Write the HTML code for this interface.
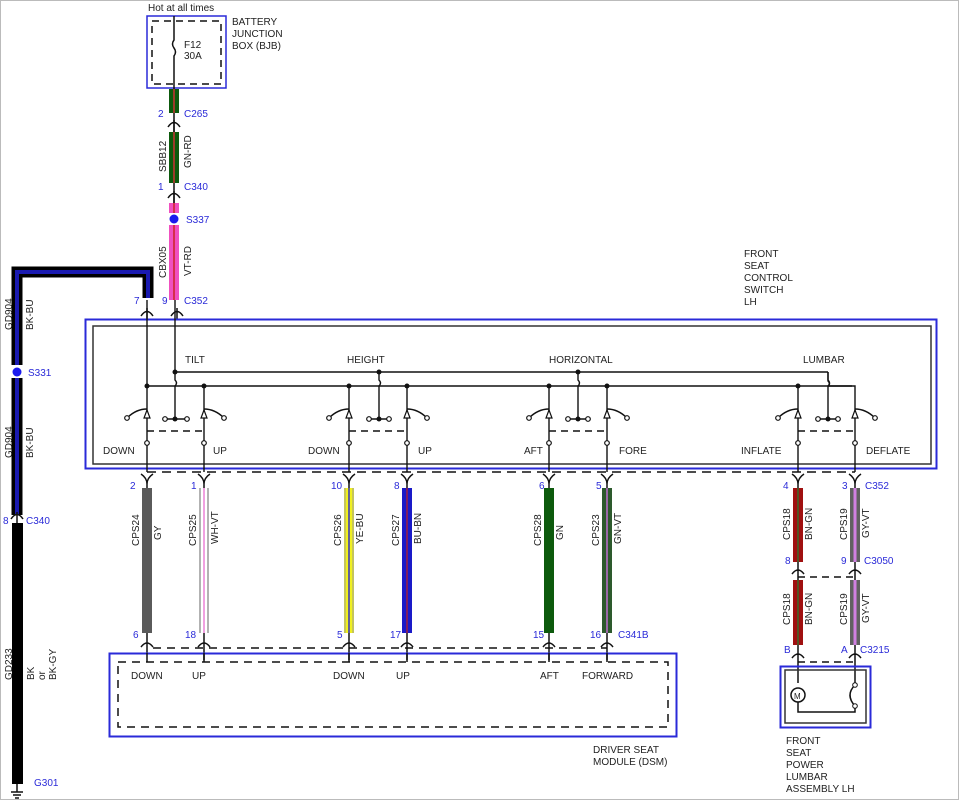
<!DOCTYPE html>
<html><head><meta charset="utf-8"><style>
html,body{margin:0;padding:0;background:#fff}
svg{display:block}
text{font-family:"Liberation Sans",sans-serif;font-size:10px;fill:#222}
.b{fill:#2a2ad8}
</style></head><body>
<svg width="960" height="801" viewBox="0 0 960 801" xmlns="http://www.w3.org/2000/svg">
<rect x="0.5" y="0.5" width="958" height="799" fill="none" stroke="#bbb"/>
<g fill="none" stroke="#111" stroke-width="1.5">
<rect x="147" y="16" width="79" height="72" stroke="#2a2ad8" stroke-width="1.5"/>
<rect x="152" y="21" width="69" height="63" stroke-dasharray="7,5"/>
<path d="M174 16 V40 q-3 4 0 8 q3 4 0 8 V89"/>
</g>
<text x="148" y="11">Hot at all times</text>
<text x="184" y="48">F12</text><text x="184" y="59">30A</text>
<text x="232" y="25">BATTERY</text><text x="232" y="37">JUNCTION</text><text x="232" y="49">BOX (BJB)</text>
<rect x="169" y="89" width="10" height="24" fill="#0d5a0d"/><line x1="174" y1="89" x2="174" y2="113" stroke="#c33" stroke-width="1.5"/>
<rect x="169" y="132" width="10" height="51" fill="#0d5a0d"/><line x1="174" y1="132" x2="174" y2="183" stroke="#c33" stroke-width="1.5"/>
<rect x="169" y="203" width="10" height="97" fill="#f050c0"/><line x1="174" y1="203" x2="174" y2="300" stroke="#c22" stroke-width="1.5"/>
<rect x="168" y="213" width="12" height="12" fill="#fff"/><circle cx="174" cy="219" r="4.5" fill="#1a1aee"/>
<g fill="none" stroke="#111" stroke-width="1.5">
<path d="M174 113 V132 M174 183 V203"/>
<path d="M168 127 Q174 118 180 127 M174 120 V132"/>
<path d="M168 198 Q174 189 180 198 M174 191 V203"/>
</g>
<text class="b" x="158" y="117">2</text><text class="b" x="184" y="117">C265</text>
<text class="b" x="158" y="190">1</text><text class="b" x="184" y="190">C340</text>
<text class="b" x="186" y="223">S337</text>
<text class="b" x="162" y="304">9</text><text class="b" x="184" y="304">C352</text>
<text class="b" x="134" y="304">7</text>
<text transform="translate(166,172) rotate(-90)">SBB12</text>
<text transform="translate(191,168) rotate(-90)">GN-RD</text>
<text transform="translate(166,278) rotate(-90)">CBX05</text>
<text transform="translate(191,276) rotate(-90)">VT-RD</text>
<path d="M148 298 V272 H17 V515" fill="none" stroke="#000" stroke-width="11"/>
<path d="M148 298 V272 H17 V515" fill="none" stroke="#1a1ab0" stroke-width="4"/>
<rect x="11" y="365" width="13" height="13" fill="#fff"/><circle cx="17" cy="372" r="4.5" fill="#1a1aee"/>
<text class="b" x="28" y="376">S331</text>
<text transform="translate(12,330) rotate(-90)">GD904</text>
<text transform="translate(33,330) rotate(-90)">BK-BU</text>
<text transform="translate(12,458) rotate(-90)">GD904</text>
<text transform="translate(33,458) rotate(-90)">BK-BU</text>
<text class="b" x="3" y="524">8</text><text class="b" x="26" y="524">C340</text>
<rect x="12" y="523" width="11" height="261" fill="#000"/>
<text transform="translate(12,680) rotate(-90)">GD233</text>
<text transform="translate(34,680) rotate(-90)">BK</text>
<text transform="translate(45,680) rotate(-90)">or</text>
<text transform="translate(56,680) rotate(-90)">BK-GY</text>
<text class="b" x="34" y="786">G301</text>
<g fill="none" stroke="#111" stroke-width="1.5">
<path d="M11 519 Q17 510 23 519 M17 512 V523"/>
<path d="M17 784 V792 M11 792 H23 M13 795 H21 M15 798 H19"/>
<path d="M141 316 Q147 307 153 316 M147 308 V320 M171 316 Q177 307 183 316 M177 308 V320"/>
</g>
<rect x="85.5" y="319.5" width="851" height="149" fill="none" stroke="#2a2ad8" stroke-width="2"/>
<rect x="93" y="326" width="838" height="138" fill="none" stroke="#333" stroke-width="1.5"/>
<text x="744" y="257">FRONT</text><text x="744" y="269">SEAT</text><text x="744" y="281">CONTROL</text><text x="744" y="293">SWITCH</text><text x="744" y="305">LH</text>
<text x="185" y="363">TILT</text><text x="347" y="363">HEIGHT</text><text x="549" y="363">HORIZONTAL</text><text x="803" y="363">LUMBAR</text>
<g fill="none" stroke="#111" stroke-width="1.4">
<path d="M147 300 V472 M175 300 V372 H828 M828 386 H855 V472"/>
<path d="M147 386 H852 M828 372 V381 q3 3 0 5"/>
<path d="M175 372 V380 q3 3 0 6 V419 M379 372 V380 q3 3 0 6 V419 M578 372 V380 q3 3 0 6 V419 M828 372 V380 q3 3 0 6 V419"/>
<path d="M165 419 H187 M369 419 H389 M568 419 H588 M818 419 H838"/>
<path d="M349 386 V472 M407 386 V472 M549 386 V472 M607 386 V472 M798 386 V472 M204 386 V472"/>
<path d="M127 418 Q136 409 147 409 M224 418 Q215 409 204 409 M329 418 Q338 409 349 409 M427 418 Q418 409 407 409 M529 418 Q538 409 549 409 M627 418 Q618 409 607 409 M778 418 Q787 409 798 409 M875 418 Q866 409 855 409"/>
<path d="M147 431 H204 M349 431 H407 M549 431 H607 M798 431 H855" stroke-dasharray="7,5"/>
<path d="M147 472 H855" stroke-dasharray="9,6"/>
</g>
<g fill="#111">
<circle cx="175" cy="372" r="2.5"/><circle cx="379" cy="372" r="2.5"/><circle cx="578" cy="372" r="2.5"/>
<circle cx="147" cy="386" r="2.5"/><circle cx="204" cy="386" r="2.5"/><circle cx="349" cy="386" r="2.5"/><circle cx="407" cy="386" r="2.5"/><circle cx="549" cy="386" r="2.5"/><circle cx="607" cy="386" r="2.5"/><circle cx="798" cy="386" r="2.5"/>
<circle cx="175" cy="419" r="2.5"/><circle cx="379" cy="419" r="2.5"/><circle cx="578" cy="419" r="2.5"/><circle cx="828" cy="419" r="2.5"/>
</g>
<g fill="#fff" stroke="#111" stroke-width="1.2">
<circle cx="165" cy="419" r="2.3"/><circle cx="187" cy="419" r="2.3"/><circle cx="369" cy="419" r="2.3"/><circle cx="389" cy="419" r="2.3"/><circle cx="568" cy="419" r="2.3"/><circle cx="588" cy="419" r="2.3"/><circle cx="818" cy="419" r="2.3"/><circle cx="838" cy="419" r="2.3"/>
<circle cx="127" cy="418" r="2.3"/><circle cx="224" cy="418" r="2.3"/><circle cx="329" cy="418" r="2.3"/><circle cx="427" cy="418" r="2.3"/><circle cx="529" cy="418" r="2.3"/><circle cx="627" cy="418" r="2.3"/><circle cx="778" cy="418" r="2.3"/><circle cx="875" cy="418" r="2.3"/>
<circle cx="147" cy="443" r="2.3"/><circle cx="204" cy="443" r="2.3"/><circle cx="349" cy="443" r="2.3"/><circle cx="407" cy="443" r="2.3"/><circle cx="549" cy="443" r="2.3"/><circle cx="607" cy="443" r="2.3"/><circle cx="798" cy="443" r="2.3"/><circle cx="855" cy="443" r="2.3"/>
<path d="M144 418 L150 418 L147 410 Z M201 418 L207 418 L204 410 Z M346 418 L352 418 L349 410 Z M404 418 L410 418 L407 410 Z M546 418 L552 418 L549 410 Z M604 418 L610 418 L607 410 Z M795 418 L801 418 L798 410 Z M852 418 L858 418 L855 410 Z" fill="#fff"/>
</g>
<text x="103" y="454">DOWN</text><text x="213" y="454">UP</text><text x="308" y="454">DOWN</text><text x="418" y="454">UP</text><text x="524" y="454">AFT</text><text x="619" y="454">FORE</text><text x="741" y="454">INFLATE</text><text x="866" y="454">DEFLATE</text>
<g fill="none" stroke="#111" stroke-width="1.5">
<path d="M141 474 Q147 478 147 484 Q147 478 153 474 M198 474 Q204 478 204 484 Q204 478 210 474 M343 474 Q349 478 349 484 Q349 478 355 474 M401 474 Q407 478 407 484 Q407 478 413 474 M543 474 Q549 478 549 484 Q549 478 555 474 M601 474 Q607 478 607 484 Q607 478 613 474 M792 474 Q798 478 798 484 Q798 478 804 474 M849 474 Q855 478 855 484 Q855 478 861 474"/>
<path d="M147 484 V488 M204 484 V488 M349 484 V488 M407 484 V488 M549 484 V488 M607 484 V488 M798 484 V488 M855 484 V488"/>
<path d="M147 633 V653 M204 633 V660 M349 633 V660 M407 633 V660 M549 633 V660 M607 633 V660"/>
<path d="M141 647 Q147 639 153 647 M198 647 Q204 639 210 647 M343 647 Q349 639 355 647 M401 647 Q407 639 413 647 M543 647 Q549 639 555 647 M601 647 Q607 639 613 647"/>
<path d="M153 648 H607" stroke-dasharray="8,6"/>
</g>
<rect x="142" y="488" width="10" height="145" fill="#5a5a5a"/>
<rect x="199" y="488" width="10" height="145" fill="#fff"/><path d="M200 488V633M208 488V633" stroke="#999" stroke-width="1.5"/><path d="M204 488V633" stroke="#f0a0e0" stroke-width="2"/>
<rect x="344" y="488" width="10" height="145" fill="#f0f020"/><path d="M349 488V633" stroke="#3030c0" stroke-width="1.5"/><path d="M345 488V633M353 488V633" stroke="#999" stroke-width="1"/>
<rect x="402" y="488" width="10" height="145" fill="#1a1ac8"/><path d="M407 488V633" stroke="#a02040" stroke-width="1.5"/>
<rect x="544" y="488" width="10" height="145" fill="#0d5a0d"/>
<rect x="602" y="488" width="10" height="145" fill="#2d5a2d"/><path d="M607 488V633" stroke="#c070d0" stroke-width="1.5"/>
<rect x="793" y="488" width="10" height="74" fill="#a01010"/><path d="M798 488V562" stroke="#3a6a2a" stroke-width="1.5"/>
<rect x="850" y="488" width="10" height="74" fill="#606060"/><path d="M855 488V562" stroke="#d080e0" stroke-width="3"/>
<rect x="793" y="580" width="10" height="65" fill="#a01010"/><path d="M798 580V645" stroke="#3a6a2a" stroke-width="1.5"/>
<rect x="850" y="580" width="10" height="65" fill="#606060"/><path d="M855 580V645" stroke="#d080e0" stroke-width="3"/>
<g fill="none" stroke="#111" stroke-width="1.5">
<path d="M798 562 V580 M855 562 V580 M792 574 Q798 566 804 574 M849 574 Q855 566 861 574"/>
<path d="M798 577 H855" stroke-dasharray="7,5"/>
<path d="M798 645 V683 M855 645 V685 M792 658 Q798 650 804 658 M849 658 Q855 650 861 658"/>
<path d="M798 662 H855" stroke-dasharray="7,5"/>
<rect x="780.5" y="666.5" width="90" height="61" stroke="#2a2ad8" stroke-width="2"/>
<rect x="785" y="670" width="81" height="53" stroke="#333"/>
<circle cx="798" cy="695" r="7"/>
<path d="M798 702 V712 H855 V706 M855 685 Q845 695 855 706"/>
</g>
<circle cx="855" cy="685" r="2.3" fill="#fff" stroke="#111"/><circle cx="855" cy="706" r="2.3" fill="#fff" stroke="#111"/>
<text x="794" y="699" style="font-size:8px">M</text>
<text x="786" y="744">FRONT</text><text x="786" y="756">SEAT</text><text x="786" y="768">POWER</text><text x="786" y="780">LUMBAR</text><text x="786" y="792">ASSEMBLY LH</text>
<text class="b" x="130" y="489">2</text><text class="b" x="191" y="489">1</text><text class="b" x="331" y="489">10</text><text class="b" x="394" y="489">8</text><text class="b" x="539" y="489">6</text><text class="b" x="596" y="489">5</text><text class="b" x="783" y="489">4</text><text class="b" x="842" y="489">3</text><text class="b" x="865" y="489">C352</text>
<text class="b" x="133" y="638">6</text><text class="b" x="185" y="638">18</text><text class="b" x="337" y="638">5</text><text class="b" x="390" y="638">17</text><text class="b" x="533" y="638">15</text><text class="b" x="590" y="638">16</text><text class="b" x="618" y="638">C341B</text>
<text class="b" x="785" y="564">8</text><text class="b" x="841" y="564">9</text><text class="b" x="864" y="564">C3050</text>
<text class="b" x="784" y="653">B</text><text class="b" x="841" y="653">A</text><text class="b" x="860" y="653">C3215</text>
<g>
<text transform="translate(139,546) rotate(-90)">CPS24</text><text transform="translate(161,540) rotate(-90)">GY</text>
<text transform="translate(196,546) rotate(-90)">CPS25</text><text transform="translate(218,544) rotate(-90)">WH-VT</text>
<text transform="translate(341,546) rotate(-90)">CPS26</text><text transform="translate(363,544) rotate(-90)">YE-BU</text>
<text transform="translate(399,546) rotate(-90)">CPS27</text><text transform="translate(421,544) rotate(-90)">BU-BN</text>
<text transform="translate(541,546) rotate(-90)">CPS28</text><text transform="translate(563,540) rotate(-90)">GN</text>
<text transform="translate(599,546) rotate(-90)">CPS23</text><text transform="translate(621,544) rotate(-90)">GN-VT</text>
<text transform="translate(790,540) rotate(-90)">CPS18</text><text transform="translate(812,540) rotate(-90)">BN-GN</text>
<text transform="translate(847,540) rotate(-90)">CPS19</text><text transform="translate(869,538) rotate(-90)">GY-VT</text>
<text transform="translate(790,625) rotate(-90)">CPS18</text><text transform="translate(812,625) rotate(-90)">BN-GN</text>
<text transform="translate(847,625) rotate(-90)">CPS19</text><text transform="translate(869,623) rotate(-90)">GY-VT</text>
</g>
<rect x="109.5" y="653.5" width="567" height="83" fill="none" stroke="#2a2ad8" stroke-width="2"/>
<path d="M118 662 H668 V727 H118 Z" fill="none" stroke="#111" stroke-width="1.5" stroke-dasharray="8,6"/>
<path d="M147 653 V662 M204 653 V662 M349 653 V662 M407 653 V662 M549 653 V662 M607 653 V662" stroke="#111" stroke-width="1.5"/>
<text x="131" y="679">DOWN</text><text x="192" y="679">UP</text><text x="333" y="679">DOWN</text><text x="396" y="679">UP</text><text x="540" y="679">AFT</text><text x="582" y="679">FORWARD</text>
<text x="593" y="753">DRIVER SEAT</text><text x="593" y="765">MODULE (DSM)</text>
</svg>
</body></html>
